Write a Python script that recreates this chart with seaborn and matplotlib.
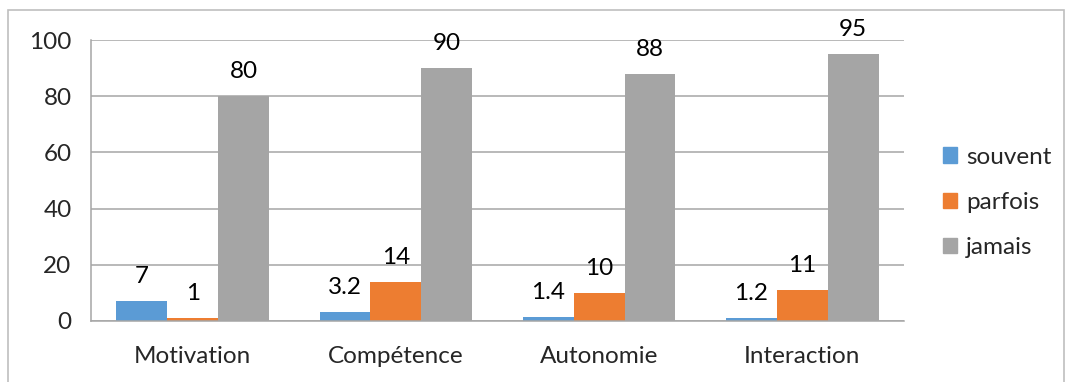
import seaborn as sns
import matplotlib.pyplot as plt
import matplotlib.patches as mpatches
import pandas as pd

# Data
categories = ['Motivation', 'Compétence', 'Autonomie', 'Interaction']
souvent = [7, 3.2, 1.4, 1.2]
parfois = [1, 14, 10, 11]
jamais = [80, 90, 88, 95]
series = ['souvent', 'parfois', 'jamais']
colors = ['#5B9BD5', '#ED7D31', '#A5A5A5']

df = pd.DataFrame({
    'cat': categories * 3,
    'val': souvent + parfois + jamais,
    'serie': ['souvent'] * 4 + ['parfois'] * 4 + ['jamais'] * 4,
})

sns.set_style('white')
plt.rcParams['font.family'] = ['Lato', 'DejaVu Sans']
fs = 17.5

fig = plt.figure(figsize=(10.66, 3.82), dpi=100)
ax = fig.add_axes([0.0854, 0.1597, 0.7626, 0.7353])

sns.barplot(data=df, x='cat', y='val', hue='serie', hue_order=series,
            palette=colors, order=categories, width=0.75, saturation=1,
            linewidth=0, ax=ax, legend=False)

for cont in ax.containers:
    ax.bar_label(cont, labels=[f'{v:g}' for v in cont.datavalues],
                 padding=10, fontsize=fs, color='#000000')

ax.set_ylim(0, 100)
ax.set_xlim(-0.5, 3.5)
ax.set_yticks(range(0, 101, 20))
ax.yaxis.grid(True, color='#A6A6A6', linewidth=1.1)
ax.set_axisbelow(True)
ax.tick_params(axis='y', labelsize=fs, length=6, color='#A6A6A6', width=1.1, pad=8)
ax.tick_params(axis='x', labelsize=fs, length=0, pad=18)
ax.set_xticks([-0.5, 0.5, 1.5, 2.5, 3.5], minor=True)
ax.tick_params(axis='x', which='minor', length=7, color='#A6A6A6', width=1.1)
ax.set_xlabel('')
ax.set_ylabel('')
for s in ['top', 'right']:
    ax.spines[s].set_visible(False)
for s in ['left', 'bottom']:
    ax.spines[s].set_color('#A6A6A6')
    ax.spines[s].set_linewidth(1.1)

handles = [mpatches.Patch(color=c, label=s) for c, s in zip(colors, series)]
fig.legend(handles=handles, loc='center left', bbox_to_anchor=(0.864, 0.47),
           frameon=False, fontsize=fs, handlelength=0.6, handleheight=0.6,
           handletextpad=0.35, labelspacing=1.0)

fig.patches.append(mpatches.Rectangle((8 / 1066, -0.05), 1056 / 1066, 1 - 10 / 382 + 0.05,
                                      transform=fig.transFigure, fill=False,
                                      edgecolor='#BFBFBF', linewidth=1.2))

fig.savefig('out.png', dpi=100)
